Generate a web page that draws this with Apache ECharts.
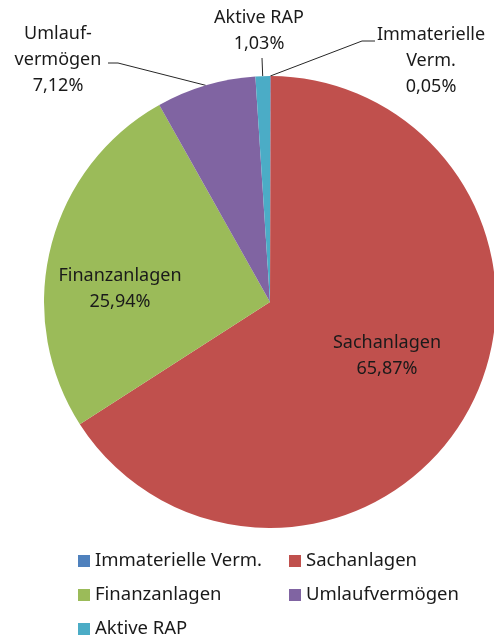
<!DOCTYPE html>
<html lang="de">
<head>
    <meta charset="utf-8">
    <title>Aktiva</title>
    <script src="https://cdn.jsdelivr.net/npm/echarts@6/dist/echarts.min.js"></script>
</head>
<body style="margin:0; background:#fff;">
<div id="main" style="width:494px; height:643px;"></div>
<script type="text/javascript">
    // Daten (Anteile in Prozent)
    const categories = ['Immaterielle Verm.', 'Sachanlagen', 'Finanzanlagen', 'Umlaufvermögen', 'Aktive RAP'];
    const labelNames = ['Immaterielle\nVerm.', 'Sachanlagen', 'Finanzanlagen', 'Umlauf-\nvermögen', 'Aktive RAP'];
    const values = [0.05, 65.87, 25.94, 7.12, 1.03];
    const colors = ['#4F81BD', '#C0504D', '#9BBB59', '#8064A2', '#4BACC6'];

    // Beschriftungen: Textmitte und Knick-/Endpunkte der Führungslinien
    const labelPos = [[431, 61], [387, 356], [120, 289], [58, 60], [259, 31]];
    const guideTail = [[[362, 41], [375, 41]], null, null, [[118, 63], [108, 63]], [[262, 58]]];
    const insideIdx = [1, 2];

    const font = '"Noto Sans", sans-serif';
    let myChart = echarts.init(document.getElementById('main'));

    const data = categories.map(function (name, i) {
        return {
            name: name,
            value: values[i],
            itemStyle: {color: colors[i]},
            label: {position: insideIdx.indexOf(i) >= 0 ? 'inside' : 'outside'},
            labelLine: {show: insideIdx.indexOf(i) < 0}
        };
    });

    function fmt(v) {
        return v.toFixed(2).replace('.', ',') + '%';
    }

    const legendText = {color: '#1a1a1a', fontSize: 18.5, fontFamily: font, lineHeight: 20};
    const option = {
        animation: false,
        legend: [{
            orient: 'vertical',
            left: 78, top: 551, padding: 0,
            itemWidth: 12, itemHeight: 12, itemGap: 14,
            icon: 'rect',
            textStyle: legendText,
            data: [categories[0], categories[2], categories[4]]
        }, {
            orient: 'vertical',
            left: 289, top: 551, padding: 0,
            itemWidth: 12, itemHeight: 12, itemGap: 14,
            icon: 'rect',
            textStyle: legendText,
            data: [categories[1], categories[3]]
        }],
        series: [{
            type: 'pie',
            center: [270, 302],
            radius: 226,
            startAngle: 90,
            clockwise: true,
            avoidLabelOverlap: false,
            itemStyle: {borderWidth: 0},
            emphasis: {disabled: true},
            label: {
                color: '#1a1a1a',
                fontSize: 18,
                fontFamily: font,
                lineHeight: 26,
                align: 'center',
                formatter: function (p) {
                    return labelNames[p.dataIndex] + '\n' + fmt(p.value);
                }
            },
            labelLine: {
                lineStyle: {color: '#262626', width: 1}
            },
            labelLayout: function (p) {
                const i = p.dataIndex;
                const pos = labelPos[i];
                const res = {x: pos[0], y: pos[1], align: 'center', verticalAlign: 'middle'};
                if (guideTail[i] && p.labelLinePoints) {
                    res.labelLinePoints = [p.labelLinePoints[0]].concat(guideTail[i]);
                }
                return res;
            },
            data: data
        }]
    };
    myChart.setOption(option);
</script>
</body>
</html>
